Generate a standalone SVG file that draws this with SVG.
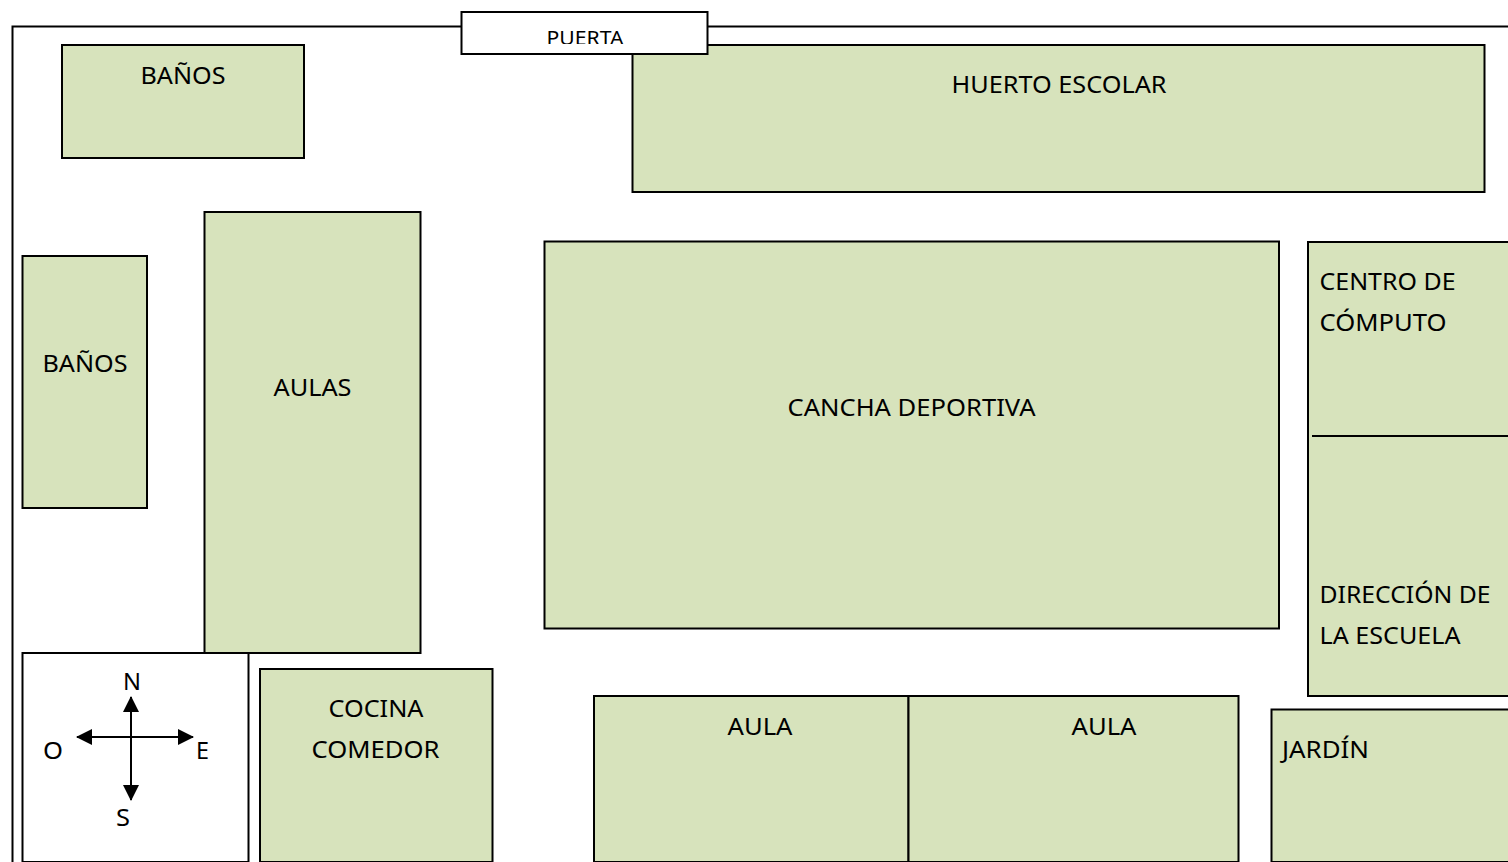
<svg xmlns="http://www.w3.org/2000/svg" width="1508" height="862" viewBox="0 0 1508 862">
<style>
.b{fill:#d7e3bc;stroke:#000;stroke-width:2}
.w{fill:#fff;stroke:#000;stroke-width:2}
.l{fill:none;stroke:#000;stroke-width:2}
text{font-family:"Noto Sans","Open Sans","Liberation Sans",sans-serif;font-size:23px;fill:#000}
</style>
<defs>
<marker id="a" markerUnits="userSpaceOnUse" markerWidth="16" markerHeight="16" refX="15" refY="8" orient="auto"><path d="M0 0L16 8L0 16Z" fill="#000"/></marker>
<clipPath id="pc"><rect x="462" y="12" width="246" height="32"/></clipPath>
</defs>
<rect width="1508" height="862" fill="#fff"/>
<g id="recinto"><path class="l" d="M12.500 862V26.500H1508"/></g>
<g id="huerto"><rect class="b" x="632.500" y="45" width="852" height="147"/><text x="951.500" y="92.500" textLength="215" lengthAdjust="spacingAndGlyphs">HUERTO ESCOLAR</text></g>
<g id="puerta"><rect class="w" x="461.500" y="12" width="246" height="42"/><text clip-path="url(#pc)" x="546.500" y="44.600" textLength="77" lengthAdjust="spacingAndGlyphs" style="font-size:20px">PUERTA</text></g>
<g id="banos1"><rect class="b" x="62" y="45" width="242" height="113"/><text x="140.500" y="83.500" textLength="85" lengthAdjust="spacingAndGlyphs">BAÑOS</text></g>
<g id="banos2"><rect class="b" x="22.500" y="256" width="124.500" height="252"/><text x="42.500" y="371.500" textLength="85" lengthAdjust="spacingAndGlyphs">BAÑOS</text></g>
<g id="aulas"><rect class="b" x="204.500" y="212" width="216" height="441"/><text x="273.500" y="395.500" textLength="78" lengthAdjust="spacingAndGlyphs">AULAS</text></g>
<g id="cancha"><rect class="b" x="544.500" y="241.500" width="734.500" height="387"/><text x="787.500" y="415.500" textLength="248" lengthAdjust="spacingAndGlyphs">CANCHA DEPORTIVA</text></g>
<g id="computo-direccion"><rect class="b" x="1308" y="242" width="204" height="454"/><path class="l" d="M1312 436H1508"/>
<text x="1319.500" y="289.500" textLength="136" lengthAdjust="spacingAndGlyphs">CENTRO DE</text><text x="1319.500" y="330.500" textLength="127" lengthAdjust="spacingAndGlyphs">CÓMPUTO</text>
<text x="1319.500" y="602.500" textLength="171" lengthAdjust="spacingAndGlyphs">DIRECCIÓN DE</text><text x="1319.500" y="643.500" textLength="141" lengthAdjust="spacingAndGlyphs">LA ESCUELA</text></g>
<g id="brujula"><rect class="w" x="22.500" y="653" width="226" height="209"/>
<text x="123" y="690" textLength="18" lengthAdjust="spacingAndGlyphs" style="font-size:24px">N</text><text x="43" y="759" textLength="20" lengthAdjust="spacingAndGlyphs" style="font-size:24px">O</text><text x="196" y="759" textLength="13" lengthAdjust="spacingAndGlyphs" style="font-size:24px">E</text><text x="116" y="826" textLength="14" lengthAdjust="spacingAndGlyphs" style="font-size:24px">S</text></g>
<g id="cocina"><rect class="b" x="260" y="669" width="232.500" height="193"/><text x="328.500" y="716.500" textLength="95" lengthAdjust="spacingAndGlyphs">COCINA</text><text x="311.500" y="757.500" textLength="128" lengthAdjust="spacingAndGlyphs">COMEDOR</text></g>
<g id="aula1"><rect class="b" x="594" y="696" width="314.500" height="166"/><text x="727.500" y="734.500" textLength="65" lengthAdjust="spacingAndGlyphs">AULA</text></g>
<g id="aula2"><rect class="b" x="908.500" y="696" width="330" height="166"/><text x="1071.500" y="734.500" textLength="65" lengthAdjust="spacingAndGlyphs">AULA</text></g>
<g id="jardin"><rect class="b" x="1271.500" y="709.500" width="240" height="152.500"/><text x="1282" y="757.500" textLength="87" lengthAdjust="spacingAndGlyphs">JARDÍN</text></g>
<g id="connectors">
<path class="l" d="M131 737V697" marker-end="url(#a)"/>
<path class="l" d="M131 737V800" marker-end="url(#a)"/>
<path class="l" d="M131 737H77" marker-end="url(#a)"/>
<path class="l" d="M131 737H193" marker-end="url(#a)"/>
</g>
</svg>
